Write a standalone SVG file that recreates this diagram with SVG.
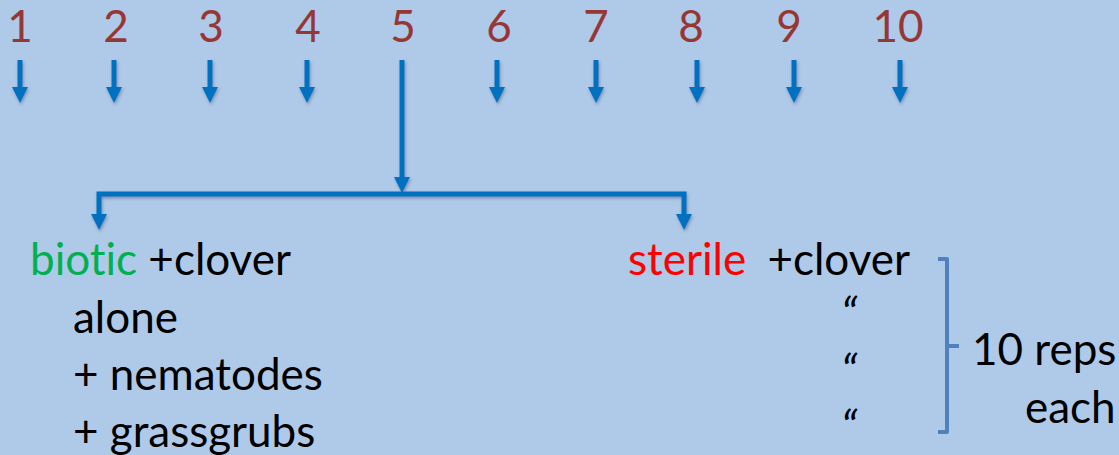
<svg xmlns="http://www.w3.org/2000/svg" width="1119" height="455" viewBox="0 0 1119 455">
  <style>
    text { font-variant-ligatures: none; font-feature-settings: "liga" 0; }
    .num { font-family: Lato, "Liberation Sans", sans-serif; font-size: 44px; fill: #953735; text-anchor: middle; }
    .txt { font-family: Lato, "Liberation Sans", sans-serif; font-size: 44px; fill: #000000; }
    .ditto { font-family: Lato, "Liberation Sans", sans-serif; font-size: 46px; font-style: italic; fill: #000000; }
    .green { fill: #00B050; }
    .red { fill: #FF0000; }
    .flow { stroke: #0070C0; stroke-width: 5; fill: none; }
    .head { fill: #0070C0; }
    .brace { stroke: #4F81BD; stroke-width: 4; fill: none; stroke-linejoin: round; }
  </style>
  <defs>
    <filter id="shadow" x="-50%" y="-20%" width="200%" height="150%">
      <feDropShadow dx="1" dy="2" stdDeviation="1.5" flood-color="#3a4a60" flood-opacity="0.45"/>
    </filter>
  </defs>

  <rect width="1119" height="455" fill="#AFC9E9"/>

  <!-- harvest numbers -->
  <g id="numbers">
    <text class="num" x="20" y="42">1</text>
    <text class="num" x="116" y="42">2</text>
    <text class="num" x="211" y="42">3</text>
    <text class="num" x="308" y="42">4</text>
    <text class="num" x="403" y="42">5</text>
    <text class="num" x="499" y="42">6</text>
    <text class="num" x="596" y="42">7</text>
    <text class="num" x="691" y="42">8</text>
    <text class="num" x="789" y="42">9</text>
    <text class="num" x="898" y="42">10</text>
  </g>

  <!-- arrows -->
  <g id="connectors" filter="url(#shadow)">
    <path class="flow" d="M20,60 V88" />
    <path class="head" d="M12,87 H28 L20,103 Z"/>
    <path class="flow" d="M114,60 V88" />
    <path class="head" d="M106,87 H122 L114,103 Z"/>
    <path class="flow" d="M210,60 V88" />
    <path class="head" d="M202,87 H218 L210,103 Z"/>
    <path class="flow" d="M307,60 V88" />
    <path class="head" d="M299,87 H315 L307,103 Z"/>
    <path class="flow" d="M497,60 V88" />
    <path class="head" d="M489,87 H505 L497,103 Z"/>
    <path class="flow" d="M596,60 V88" />
    <path class="head" d="M588,87 H604 L596,103 Z"/>
    <path class="flow" d="M697,60 V88" />
    <path class="head" d="M689,87 H705 L697,103 Z"/>
    <path class="flow" d="M794,60 V88" />
    <path class="head" d="M786,87 H802 L794,103 Z"/>
    <path class="flow" d="M900,60 V88" />
    <path class="head" d="M892,87 H908 L900,103 Z"/>

    <!-- harvest 5 splits into the two soil treatments -->
    <path class="flow" d="M402,60 V178" />
    <path class="head" d="M394,177 H410 L402,193 Z"/>
    <path class="flow" d="M99,215 V194 H684 V215" />
    <path class="head" d="M91,214 H107 L99,230 Z"/>
    <path class="head" d="M676,214 H692 L684,230 Z"/>
  </g>

  <!-- biotic soil treatments -->
  <g id="biotic">
    <text class="txt" x="30" y="275"><tspan class="green">biotic</tspan> +clover</text>
    <text class="txt" x="73" y="333">alone</text>
    <text class="txt" x="73" y="390">+ nematodes</text>
    <text class="txt" x="73" y="447">+ grassgrubs</text>
  </g>

  <!-- sterile soil treatments -->
  <g id="sterile">
    <text class="txt" x="628" y="275"><tspan class="red">sterile</tspan><tspan dx="10"> +clover</tspan></text>
    <text class="ditto" x="841" y="331">“</text>
    <text class="ditto" x="841" y="388">“</text>
    <text class="ditto" x="841" y="444">“</text>
  </g>

  <!-- replicate bracket -->
  <g id="reps">
    <path class="brace" d="M938,259 H947 V432 H938 M947,346 H959" />
    <text class="txt" x="972" y="365">10 reps</text>
    <text class="txt" x="1025" y="423">each</text>
  </g>
</svg>
